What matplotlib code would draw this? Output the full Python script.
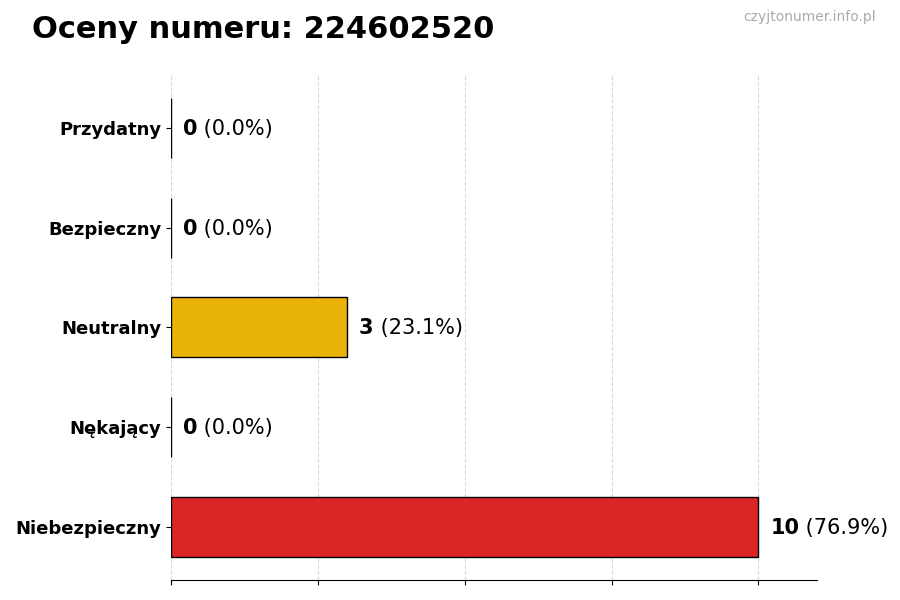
import matplotlib
matplotlib.use('Agg')
import matplotlib.pyplot as plt

categories = ['Niebezpieczny', 'Nękający', 'Neutralny', 'Bezpieczny', 'Przydatny']
counts = [10, 0, 3, 0, 0]
percents = [76.9, 0.0, 23.1, 0.0, 0.0]
colors = ['#dc2626', '#dc2626', '#eab308', '#16a34a', '#16a34a']

fig = plt.figure(figsize=(9, 6), dpi=100)
ax = fig.add_axes([0.19, 0.0333, 0.718, 0.842])

ypos = list(range(len(categories)))
ax.barh(ypos, counts, height=0.6, color=colors, edgecolor='black', linewidth=1.0, zorder=2)

for y, c, p in zip(ypos, counts, percents):
    t = ax.annotate(f'{c}', xy=(c, y), xytext=(8.5, -0.7), textcoords='offset points',
                    ha='left', va='center', fontsize=15, fontweight='bold')
    ax.annotate(f' ({p:.1f}%)', xycoords=t, xy=(1, 0.5), ha='left', va='center',
                fontsize=15)

ax.set_xlim(0, 11)
ax.set_ylim(-0.53, 4.53)
ax.set_xticks([0, 2.5, 5, 7.5, 10])
ax.set_xticklabels([])
ax.set_yticks(ypos)
ax.set_yticklabels(categories, fontsize=13, fontweight='bold')
ax.grid(axis='x', color='#d9d9d9', linestyle='--', linewidth=0.8, zorder=0)
for s in ['top', 'right', 'left']:
    ax.spines[s].set_visible(False)

fig.text(32 / 900, 1 - 30 / 600, 'Oceny numeru: 224602520', fontsize=22,
         fontweight='bold', ha='left', va='center')
fig.text(876 / 900, 1 - 17 / 600, 'czyjtonumer.info.pl', fontsize=10,
         color='#aaaaaa', ha='right', va='center')

fig.savefig('out.png', dpi=100)
